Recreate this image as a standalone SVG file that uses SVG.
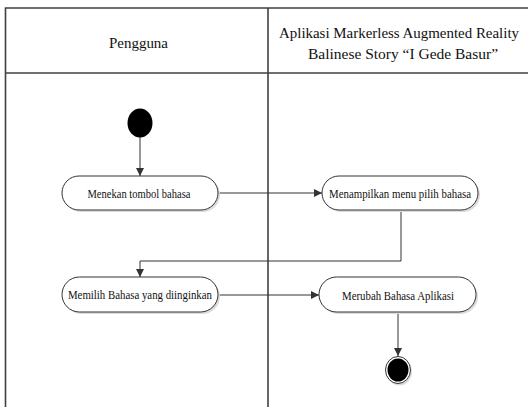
<svg xmlns="http://www.w3.org/2000/svg" width="528" height="407" viewBox="0 0 528 407">
  <style>
    .lane { fill: none; stroke: #404040; stroke-width: 1.6; }
    .act { fill: #ffffff; stroke: #333333; stroke-width: 1; }
    .shadow { fill: #dcdcdc; }
    .label { font-family: "Liberation Serif", "Times New Roman", serif; font-size: 13px; fill: #111111; text-anchor: middle; }
    .head { font-family: "Liberation Serif", "Times New Roman", serif; font-size: 15.5px; fill: #111111; text-anchor: middle; }
    .flow { fill: none; stroke: #333333; stroke-width: 1; }
  </style>
  <defs>
    <marker id="arrow" viewBox="0 0 10 10" refX="10" refY="5" markerWidth="8" markerHeight="8" markerUnits="userSpaceOnUse" orient="auto">
      <path d="M0,0 L10,5 L0,10 z" fill="#333333"/>
    </marker>
  </defs>
  <rect width="528" height="407" fill="#ffffff"/>

  <!-- swimlane frame -->
  <g id="swimlanes">
    <path class="lane" d="M540,8 H5.5 V410"/>
    <line class="lane" x1="5.5" y1="73" x2="540" y2="73"/>
    <line class="lane" x1="268" y1="8" x2="268" y2="410"/>
    <text class="head" x="138.5" y="48" textLength="59" lengthAdjust="spacingAndGlyphs">Pengguna</text>
    <text class="head" x="399" y="38" style="font-size:15px" textLength="240" lengthAdjust="spacingAndGlyphs">Aplikasi Markerless Augmented Reality</text>
    <text class="head" x="403" y="59" textLength="190" lengthAdjust="spacingAndGlyphs">Balinese Story “I Gede Basur”</text>
  </g>

  <!-- connectors -->
  <g id="connectors">
    <line class="flow" x1="140" y1="137" x2="140" y2="176" marker-end="url(#arrow)"/>
    <line class="flow" x1="218" y1="193" x2="322" y2="193" marker-end="url(#arrow)"/>
    <polyline class="flow" points="401,210 401,261 140,261 140,277" marker-end="url(#arrow)"/>
    <line class="flow" x1="218" y1="295" x2="319" y2="295" marker-end="url(#arrow)"/>
    <line class="flow" x1="398" y1="313" x2="398" y2="356" marker-end="url(#arrow)"/>
  </g>

  <g id="start">
    <ellipse cx="140" cy="123" rx="12.5" ry="14.5" fill="#000000"/>
  </g>

  <g id="act-menekan">
    <rect class="shadow" x="64" y="178" width="156" height="34" rx="17"/>
    <rect class="act" x="62" y="176" width="156" height="34" rx="17"/>
    <text class="label" x="139" y="197.5" textLength="103" lengthAdjust="spacingAndGlyphs">Menekan tombol bahasa</text>
  </g>

  <g id="act-menampilkan">
    <rect class="shadow" x="324" y="178" width="156" height="34" rx="17"/>
    <rect class="act" x="322" y="176" width="156" height="34" rx="17"/>
    <text class="label" x="400" y="198" textLength="142" lengthAdjust="spacingAndGlyphs">Menampilkan menu pilih bahasa</text>
  </g>

  <g id="act-memilih">
    <rect class="shadow" x="64" y="279" width="156" height="35" rx="17.5"/>
    <rect class="act" x="62" y="277" width="156" height="35" rx="17.5"/>
    <text class="label" x="140" y="299" textLength="144" lengthAdjust="spacingAndGlyphs">Memilih Bahasa yang diinginkan</text>
  </g>

  <g id="act-merubah">
    <rect class="shadow" x="321" y="279" width="157" height="35" rx="17.5"/>
    <rect class="act" x="319" y="277" width="157" height="35" rx="17.5"/>
    <text class="label" x="398" y="300" textLength="112" lengthAdjust="spacingAndGlyphs">Merubah Bahasa Aplikasi</text>
  </g>

  <g id="end">
    <ellipse cx="399.5" cy="372" rx="12.5" ry="13.5" fill="#dcdcdc"/>
    <ellipse cx="398" cy="370" rx="12.5" ry="13.5" fill="#ffffff" stroke="#333333" stroke-width="1"/>
    <ellipse cx="398" cy="370" rx="10.5" ry="11.5" fill="#000000"/>
  </g>
</svg>
